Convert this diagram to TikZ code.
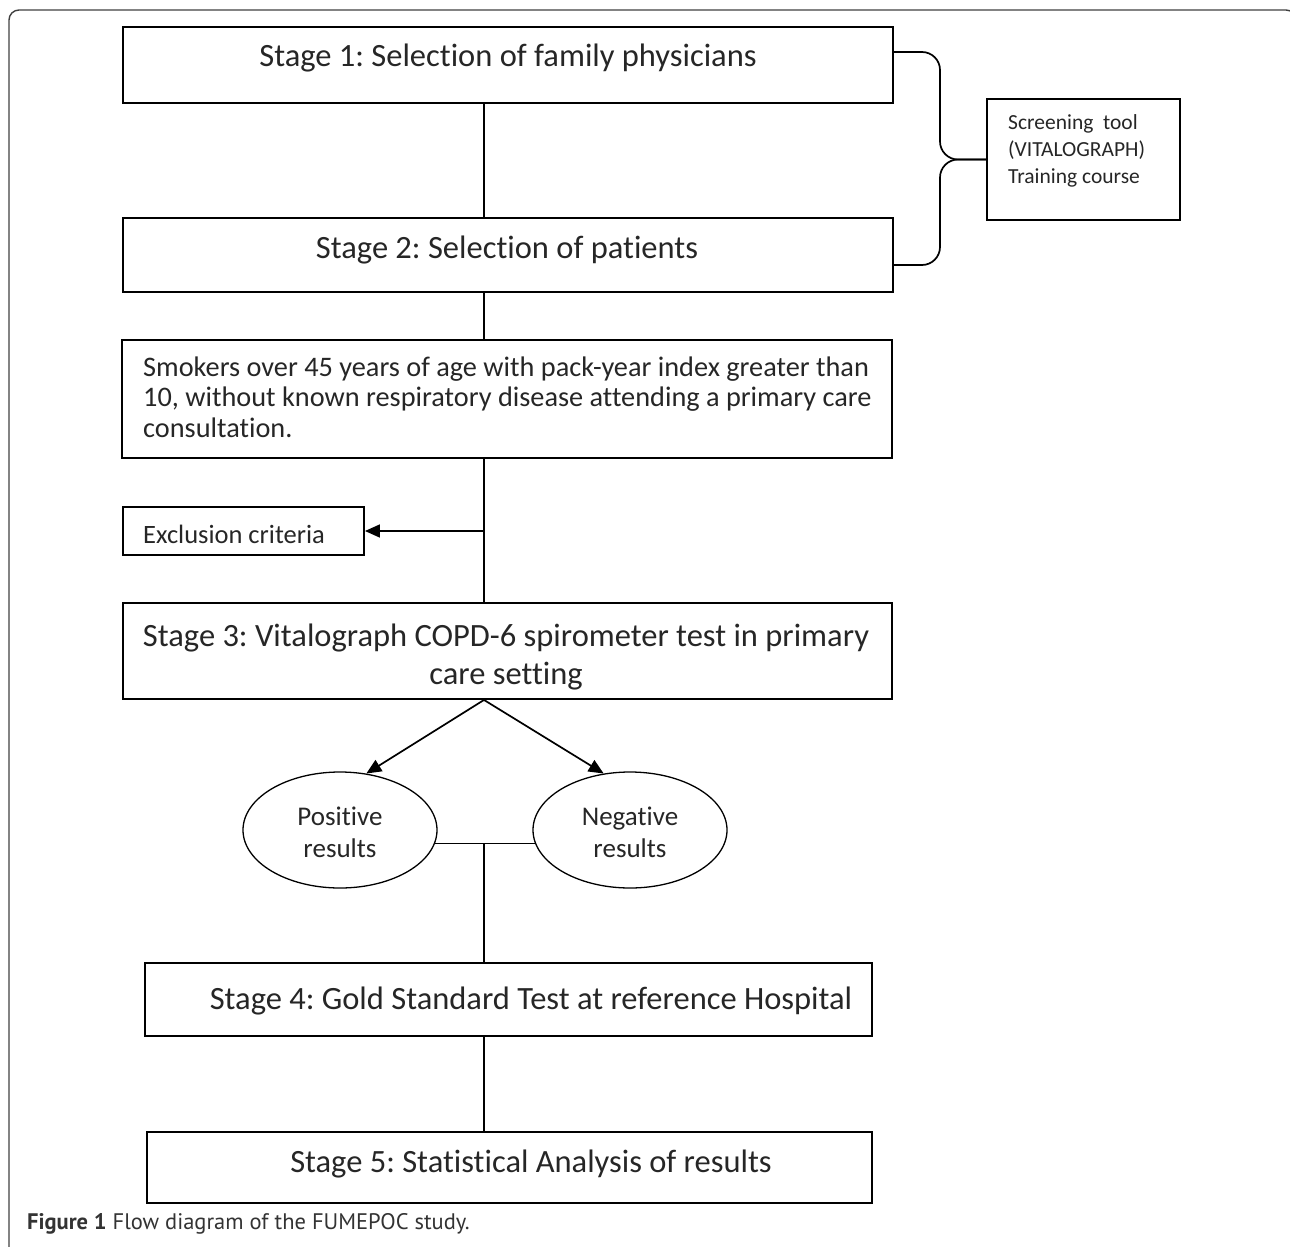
\documentclass[tikz,border=0pt]{standalone}
\usepackage{fontspec}
\setmainfont{Carlito}[Ligatures={NoCommon,NoRare,NoContextual}]
\newfontfamily\capfont{PT Sans}
\usetikzlibrary{arrows.meta,shapes.geometric,calc}
\definecolor{txt}{HTML}{262626}
\frenchspacing
\begin{document}
\begin{tikzpicture}[x=1pt,y=-1pt,
  box/.style={draw=black,line width=1.9pt,rectangle,inner sep=0pt},
  oval/.style={draw=black,line width=1.3pt,ellipse,inner sep=0pt,minimum width=194pt,minimum height=116pt},
  big/.style={text=txt,font=\fontsize{32.5}{38}\selectfont,inner sep=0pt,align=center},
  mid/.style={text=txt,font=\fontsize{28.3}{30.5}\selectfont,inner sep=0pt},
  small/.style={text=txt,font=\fontsize{21.5}{27}\selectfont,inner sep=0pt,align=left},
  conn/.style={line width=1.7pt},
  arr/.style={line width=1.7pt,-{Triangle[length=15pt,width=13pt]}}]
\useasboundingbox (0,0) rectangle (1290,1247);
% outer frame
\draw[line width=1.4pt,black!75,rounded corners=10pt] (9,1252) -- (9,10) -- (1296,10) -- (1296,60);
% boxes
\node[box,minimum width=770pt,minimum height=76pt] (s1) at (508,65) {};
\node[big] (s1t) at (508,58) {Stage 1: Selection of family physicians};
\node[box,minimum width=770pt,minimum height=74pt] (s2) at (508,255) {};
\node[big] (s2t) at (507,250) {Stage 2: Selection of patients};
\node[box,minimum width=193pt,minimum height=121pt] (scr) at (1083.5,159.5) {};
\node[small,anchor=west] (scrt) at (1008,151) {Screening\ \ tool\\(VITALOGRAPH)\\Training course};
\node[box,minimum width=770pt,minimum height=118pt] (sm) at (507,399) {};
\node[mid,anchor=west,align=left] (smt) at (143,397) {Smokers over 45 years of age with pack-year index greater than\\10, without known respiratory disease attending a primary care\\consultation.};
\node[box,minimum width=241pt,minimum height=48pt] (ex) at (243.5,531) {};
\node[mid,anchor=west,font=\fontsize{26.5}{30}\selectfont] (ext) at (143,534) {Exclusion criteria};
\node[box,minimum width=769pt,minimum height=96pt] (s3) at (507.5,651) {};
\node[big] (s3t) at (506,657) {Stage 3: Vitalograph COPD-6 spirometer test in primary\\care setting};
\node[oval] (pos) at (340,830) {};
\node[mid,align=center,font=\fontsize{27}{32}\selectfont] (post) at (340,832) {Positive\\results};
\node[oval] (neg) at (630,830) {};
\node[mid,align=center,font=\fontsize{27}{32}\selectfont] (negt) at (630,832) {Negative\\results};
\node[box,minimum width=727pt,minimum height=73pt] (s4) at (508.5,999.5) {};
\node[big] (s4t) at (531,1001) {Stage 4: Gold Standard Test at reference Hospital};
\node[box,minimum width=725pt,minimum height=71pt] (s5) at (509.5,1167.5) {};
\node[big] (s5t) at (531,1164) {Stage 5: Statistical Analysis of results};
% caption
\node[anchor=west,inner sep=0pt,text=black!80,font=\capfont\fontsize{22.5}{26}\selectfont] (cap) at (27,1224) {\textbf{Figure 1} Flow diagram of the FUMEPOC study.};
% connectors
\coordinate (sp) at (484,0);
\coordinate (bx) at (940,0);
\draw[conn] (s1.south -| sp) -- (s2.north -| sp);
\draw[conn] (s2.south -| sp) -- (sm.north -| sp);
\draw[conn] (sm.south -| sp) -- (s3.north -| sp);
\coordinate (exj) at (ex.east -| sp);
\draw[arr] (exj) -- (ex.east);
\draw[arr] (s3.south -| sp) -- (pos.65);
\draw[arr] (s3.south -| sp) -- (neg.115);
\draw[conn,line width=1.4pt] (pos.-8) -- (neg.188);
\coordinate (pj) at (pos.-8 -| sp);
\draw[conn] (pj) -- (s4.north -| sp);
\draw[conn] (s4.south -| sp) -- (s5.north -| sp);
% brace
\draw[conn,rounded corners=18pt] ([yshift=13pt]s1.east) -| (bx |- scr.west) -- (scr.west);
\draw[conn,rounded corners=18pt] ([yshift=-10pt]s2.east) -| (bx |- scr.west) -- (scr.west);
\end{tikzpicture}
\end{document}
